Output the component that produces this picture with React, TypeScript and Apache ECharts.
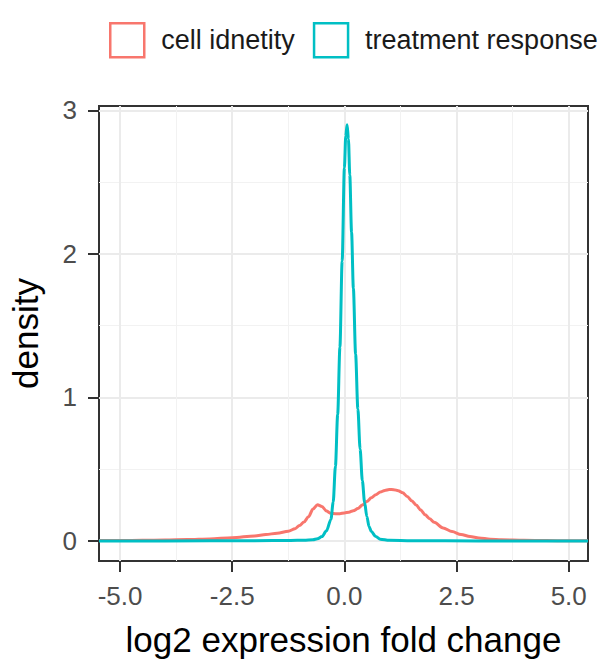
import React, { useEffect, useRef } from "react";
import * as echarts from "echarts";

const seriesNames = ["cell idnetity", "treatment response"];
const seriesColors = ["#F8766D", "#00BFC4"];

const xTicks = [-5, -2.5, 0, 2.5, 5];
const xMinorTicks = [-3.75, -1.25, 1.25, 3.75];
const yTicks = [0, 1, 2, 3];
const yMinorTicks = [0.5, 1.5, 2.5];

const cellX = [
  -5.47, -5, -4.5, -4, -3.5, -3, -2.5, -2, -1.75, -1.5, -1.25, -1.1, -1.0, -0.9, -0.8, -0.7,
  -0.6, -0.5, -0.4, -0.3, -0.2, -0.1, 0, 0.1, 0.2, 0.3, 0.4, 0.5, 0.6, 0.7, 0.8, 0.9, 1.0,
  1.1, 1.2, 1.3, 1.4, 1.5, 1.6, 1.7, 1.8, 1.9, 2.0, 2.2, 2.4, 2.6, 2.8, 3.0, 3.25, 3.5, 4,
  4.5, 5, 5.43,
];
const cellY = [
  0.002, 0.003, 0.004, 0.006, 0.009, 0.014, 0.022, 0.035, 0.044, 0.054, 0.067, 0.085, 0.108,
  0.132, 0.168, 0.222, 0.252, 0.24, 0.208, 0.192, 0.19, 0.19, 0.195, 0.2, 0.21, 0.225, 0.25,
  0.275, 0.3, 0.322, 0.34, 0.352, 0.358, 0.357, 0.35, 0.335, 0.31, 0.28, 0.25, 0.215, 0.182,
  0.155, 0.13, 0.09, 0.065, 0.045, 0.03, 0.02, 0.012, 0.008, 0.004, 0.002, 0.001, 0.001,
];

const respX = [
  -5.47, -4, -2, -1.2, -0.9, -0.7, -0.6, -0.5, -0.4, -0.3, -0.25, -0.2, -0.15, -0.1, -0.05, 0,
  0.03, 0.06, 0.09, 0.12, 0.16, 0.2, 0.25, 0.3, 0.35, 0.4, 0.45, 0.5, 0.55, 0.6, 0.7, 0.8, 1.0,
  1.5, 3, 5.43,
];
const respY = [
  0.0, 0.0, 0.001, 0.003, 0.005, 0.008, 0.015, 0.03, 0.07, 0.15, 0.27, 0.52, 0.88, 1.35, 1.95,
  2.6, 2.82, 2.9, 2.8, 2.55, 2.15, 1.76, 1.3, 0.92, 0.64, 0.42, 0.27, 0.17, 0.1, 0.065, 0.03,
  0.012, 0.004, 0.001, 0.0, 0.0,
];

const xMin = -5.47;
const xMax = 5.43;
const yMin = -0.14;
const yMax = 3.03;

const FONT = "Liberation Sans, Arial, Helvetica, sans-serif";

export default function App() {
  const ref = useRef<HTMLDivElement>(null);
  useEffect(() => {
    document.body.style.margin = "0";
    if (!ref.current) return;
    const chart = echarts.init(ref.current, undefined, { renderer: "svg" });
    const toPairs = (xs: number[], ys: number[]) => xs.map((x, i) => [x, ys[i]]);
    const baseX = {
      type: "value",
      position: "bottom",
      min: xMin,
      max: xMax,
      axisLine: { show: false, onZero: false },
    };
    const baseY = {
      type: "value",
      position: "left",
      min: yMin,
      max: yMax,
      axisLine: { show: false, onZero: false },
    };
    chart.setOption({
      animation: false,
      backgroundColor: "#ffffff",
      textStyle: { fontFamily: FONT },
      legend: {
        left: 104,
        top: 17,
        icon: "rect",
        itemWidth: 34,
        itemHeight: 34,
        itemGap: 18,
        textStyle: { fontSize: 27, color: "#1a1a1a", fontFamily: FONT, padding: [0, 0, 0, 12] },
        data: seriesNames.map((name, i) => ({
          name,
          icon: "rect",
          itemStyle: { color: "#ffffff", borderColor: seriesColors[i], borderWidth: 2.5 },
        })),
      },
      grid: {
        left: 98,
        right: 17,
        top: 106,
        bottom: 97,
        show: true,
        borderColor: "#333333",
        borderWidth: 2,
        backgroundColor: "transparent",
      },
      xAxis: [
        {
          ...baseX,
          axisTick: { show: false, customValues: xMinorTicks },
          axisLabel: { show: false },
          splitLine: { show: true, lineStyle: { color: "#F2F2F2", width: 1 } },
        },
        {
          ...baseX,
          axisTick: {
            show: true,
            length: 11,
            customValues: xTicks,
            lineStyle: { color: "#333333", width: 2 },
          },
          axisLabel: {
            customValues: xTicks,
            formatter: (v: number) => v.toFixed(1),
            fontSize: 26,
            color: "#4D4D4D",
            margin: 22,
            fontFamily: FONT,
          },
          splitLine: { show: true, lineStyle: { color: "#EBEBEB", width: 2 } },
          name: "log2 expression fold change",
          nameLocation: "middle",
          nameGap: 61,
          nameTextStyle: { fontSize: 35, color: "#000000", fontFamily: FONT },
        },
      ],
      yAxis: [
        {
          ...baseY,
          axisTick: { show: false, customValues: yMinorTicks },
          axisLabel: { show: false },
          splitLine: { show: true, lineStyle: { color: "#F2F2F2", width: 1 } },
        },
        {
          ...baseY,
          axisTick: {
            show: true,
            length: 11,
            customValues: yTicks,
            lineStyle: { color: "#333333", width: 2 },
          },
          axisLabel: {
            customValues: yTicks,
            formatter: (v: number) => String(v),
            fontSize: 26,
            color: "#4D4D4D",
            margin: 22,
            fontFamily: FONT,
          },
          splitLine: { show: true, lineStyle: { color: "#EBEBEB", width: 2 } },
          name: "density",
          nameLocation: "middle",
          nameGap: 56,
          nameRotate: 90,
          nameTextStyle: { fontSize: 35, color: "#000000", fontFamily: FONT },
        },
      ],
      series: [
        {
          name: seriesNames[0],
          type: "line",
          xAxisIndex: 1,
          yAxisIndex: 1,
          data: toPairs(cellX, cellY),
          showSymbol: false,
          symbol: "none",
          smooth: 0.3,
          smoothMonotone: "x",
          lineStyle: { color: seriesColors[0], width: 3 },
          itemStyle: { color: seriesColors[0] },
          z: 3,
        },
        {
          name: seriesNames[1],
          type: "line",
          xAxisIndex: 1,
          yAxisIndex: 1,
          data: toPairs(respX, respY),
          showSymbol: false,
          symbol: "none",
          smooth: 0.3,
          smoothMonotone: "x",
          lineStyle: { color: seriesColors[1], width: 3 },
          itemStyle: { color: seriesColors[1] },
          z: 4,
        },
      ],
    });
    return () => chart.dispose();
  }, []);
  return <div ref={ref} style={{ width: 605, height: 662 }} />;
}
